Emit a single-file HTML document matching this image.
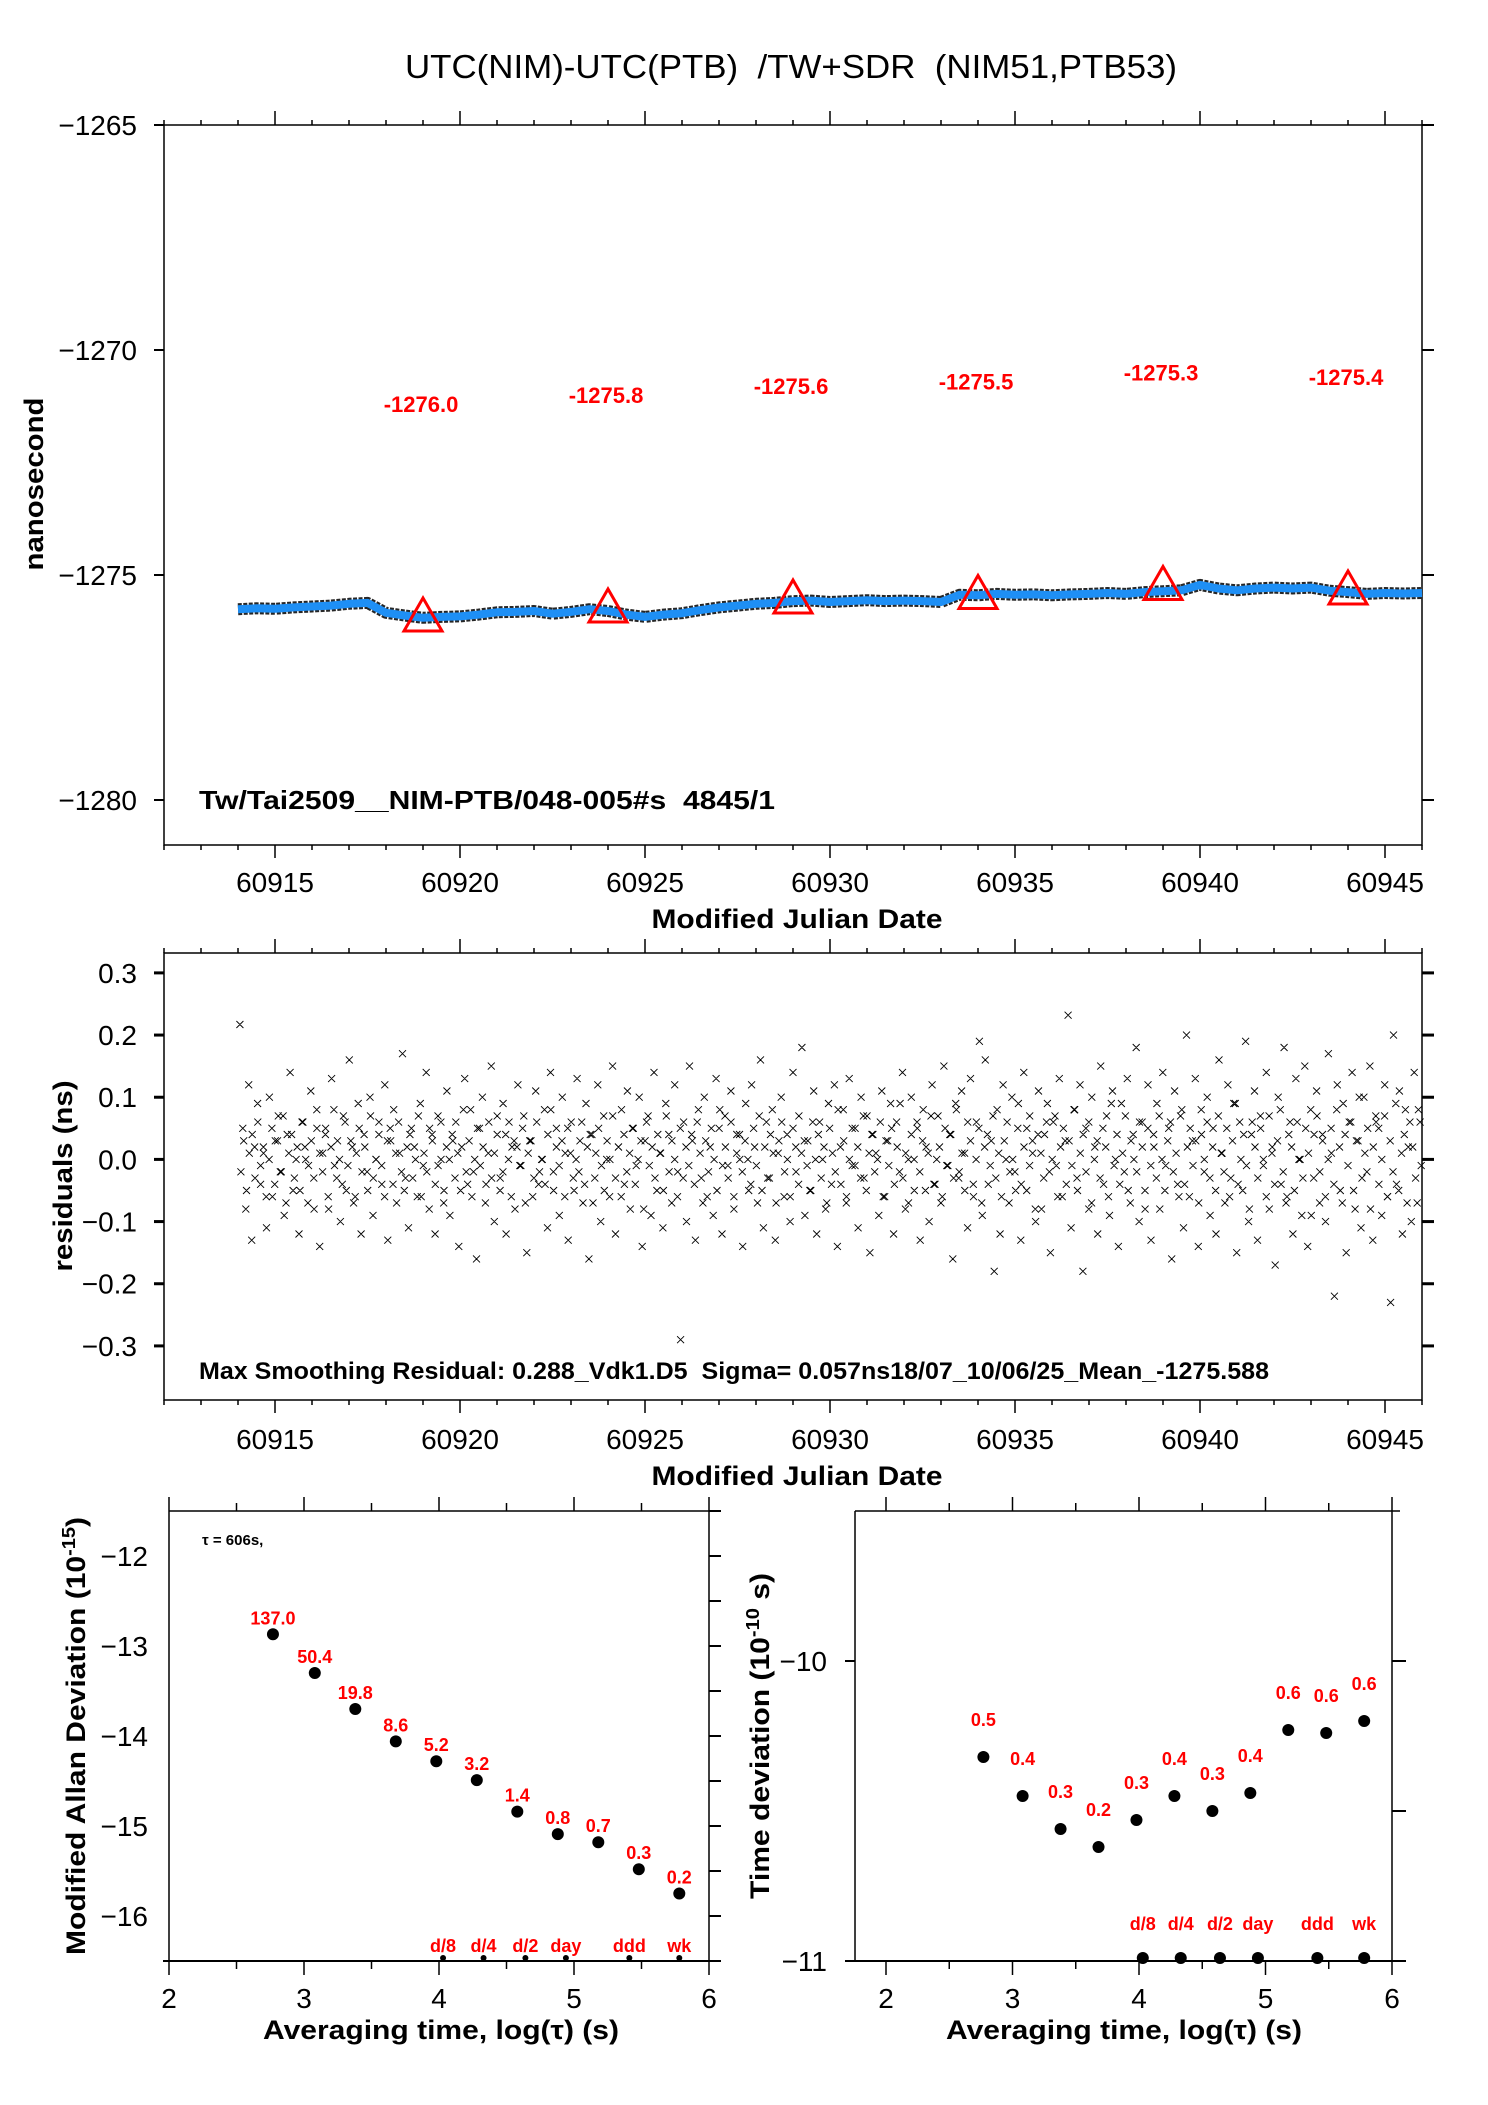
<!DOCTYPE html>
<html><head><meta charset="utf-8"><title>UTC(NIM)-UTC(PTB)</title>
<style>
html,body{margin:0;padding:0;background:#fff;}
svg{display:block;font-family:"Liberation Sans",Arial,sans-serif;}
text{white-space:pre;}
</style></head>
<body>
<svg id="fig" xmlns="http://www.w3.org/2000/svg" width="1488" height="2105" viewBox="0 0 1488 2105">
<rect width="1488" height="2105" fill="#fff"/>
<text x="791" y="78" font-size="33" text-anchor="middle" textLength="772" lengthAdjust="spacingAndGlyphs" xml:space="preserve">UTC(NIM)-UTC(PTB)  /TW+SDR  (NIM51,PTB53)</text>
<g id="p1"></g>
<g id="p2"></g>
<g id="p3"></g>
<g id="p4"></g>
</svg>
<script>
// ---------- DATA ----------
const seriesStart = 60914;
const seriesStep = 0.5;
const seriesValues = [-1275.76,-1275.74,-1275.75,-1275.72,-1275.70,-1275.68,-1275.64,-1275.62,-1275.84,-1275.90,-1275.95,-1275.93,-1275.92,-1275.88,-1275.83,-1275.82,-1275.80,-1275.86,-1275.82,-1275.76,-1275.80,-1275.88,-1275.93,-1275.88,-1275.85,-1275.78,-1275.72,-1275.68,-1275.64,-1275.62,-1275.58,-1275.57,-1275.60,-1275.58,-1275.56,-1275.58,-1275.57,-1275.58,-1275.60,-1275.44,-1275.45,-1275.42,-1275.44,-1275.43,-1275.45,-1275.43,-1275.42,-1275.40,-1275.42,-1275.38,-1275.36,-1275.34,-1275.22,-1275.30,-1275.34,-1275.30,-1275.28,-1275.30,-1275.28,-1275.35,-1275.38,-1275.42,-1275.40,-1275.41,-1275.40];
const markerDates = [60919,60924,60929,60934,60939,60944];
const markerValues = [-1276.0,-1275.8,-1275.6,-1275.5,-1275.3,-1275.4];
const markerLabels = ["-1276.0","-1275.8","-1275.6","-1275.5","-1275.3","-1275.4"];
const p1YTicks = [-1265,-1270,-1275,-1280];
const xTickDates = [60915,60920,60925,60930,60935,60940,60945];

const resStart = 60914.05;
const resEnd = 60945.95;
const residualsA = [0.217,0.05,-0.08,0.12,-0.13,0.02,0.09,-0.04,0.01,-0.11,0.10,-0.06,0.03,0.07,-0.02,-0.09,0.04,0.14,-0.05,0.00,
-0.12,0.06,0.02,-0.07,0.11,-0.03,0.08,-0.14,0.01,0.05,-0.08,0.13,-0.01,0.03,-0.10,0.07,-0.05,0.16,0.02,-0.06,
0.09,-0.12,0.04,-0.02,0.10,-0.09,0.00,0.06,-0.04,0.12,-0.13,0.03,0.08,-0.07,0.01,0.17,-0.03,-0.11,0.05,0.02,
-0.06,0.09,-0.01,0.14,-0.08,0.04,-0.12,0.07,0.00,-0.05,0.11,-0.09,0.03,0.06,-0.14,0.02,0.13,-0.04,0.08,-0.02,
-0.16,0.05,0.10,-0.07,0.01,0.15,-0.10,0.04,-0.03,0.09,-0.12,0.06,0.02,-0.08,0.12,-0.01,0.07,-0.15,0.03,-0.06,
0.11,-0.04,0.00,0.08,-0.11,0.14,-0.02,0.05,-0.09,0.10,0.01,-0.13,0.06,-0.05,0.13,0.03,-0.07,0.09,-0.16,0.04,
-0.03,0.12,-0.10,0.07,0.00,-0.06,0.15,-0.12,0.02,0.08,-0.04,0.11,-0.08,0.05,-0.01,0.10,-0.14,0.03,0.07,-0.09,
0.14,-0.05,0.01,-0.11,0.09,0.04,-0.07,0.12,-0.02,-0.29,0.06,-0.10,0.15,0.03,-0.13,0.08,-0.03,0.10,-0.06,0.02,
-0.09,0.13,0.05,-0.12,0.07,-0.01,0.11,-0.08,0.04,0.00,-0.14,0.09,-0.05,0.12,0.02,-0.07,0.16,-0.11,0.06,-0.03,
0.08,-0.13,0.01,0.10,-0.06,0.04,-0.10,0.14,-0.02,0.07,0.18,-0.09,0.03,-0.05,0.11,-0.12,0.06,0.00,-0.08,0.09,
-0.04,0.12,-0.14,0.02,0.08,-0.07,0.13,-0.01,0.05,-0.11,0.10,-0.03,0.07,-0.15,0.04,0.01,-0.09,0.11,-0.06,0.03,
0.09,-0.12,0.06,-0.02,0.14,-0.08,0.00,0.10,-0.05,0.05,-0.13,0.08,0.02,-0.10,0.12,-0.04,0.07,-0.07,0.15,-0.01,
0.04,-0.16,0.09,-0.03,0.11,0.01,-0.11,0.13,-0.06,0.06,0.19,-0.09,0.16,-0.04,0.03,-0.18,0.08,-0.12,0.12,0.00,
-0.07,0.10,-0.02,0.05,-0.13,0.14,-0.05,0.07,0.01,-0.10,0.11,-0.08,0.04,0.09,-0.15,0.06,-0.01,0.13,-0.06,0.03,
0.232,-0.11,0.08,-0.03,0.12,-0.18,0.05,-0.08,0.10,0.02,-0.12,0.15,-0.04,0.07,-0.09,0.11,0.00,-0.14,0.09,-0.02,
0.13,-0.07,0.04,0.18,-0.10,0.06,-0.05,0.12,-0.13,0.02,0.09,-0.08,0.14,-0.01,0.05,-0.16,0.11,-0.04,0.07,-0.11,
0.20,-0.06,0.03,0.13,-0.14,0.08,-0.02,0.10,-0.09,0.05,-0.12,0.16,0.01,-0.07,0.12,-0.03,0.09,-0.15,0.06,-0.05,
0.19,-0.10,0.04,0.11,-0.13,0.07,-0.01,0.14,-0.08,0.02,-0.17,0.10,-0.04,0.18,-0.06,0.06,-0.12,0.13,0.00,-0.09,
0.15,-0.14,0.08,-0.03,0.11,-0.07,0.04,-0.10,0.17,0.01,-0.22,0.12,-0.05,0.09,-0.15,0.06,0.14,-0.08,0.03,-0.11,
0.10,-0.02,0.15,-0.13,0.07,0.05,-0.09,0.12,-0.06,-0.23,0.20,-0.04,0.11,-0.12,0.08,0.02,-0.10,0.14,-0.07,0.06];
const residualsB = [-0.02,0.03,-0.05,0.01,0.04,-0.03,0.06,-0.01,0.02,-0.06,0.00,0.05,-0.04,0.03,-0.02,0.07,-0.07,0.01,0.04,-0.03,
0.02,-0.05,0.06,0.00,-0.01,0.03,-0.08,0.05,0.01,-0.02,0.04,-0.06,0.02,0.08,-0.03,0.00,-0.04,0.06,-0.01,0.03,
-0.07,0.01,0.05,-0.02,0.02,-0.05,0.07,-0.03,0.00,0.04,-0.01,-0.06,0.03,0.05,-0.04,0.01,0.06,-0.02,-0.05,0.02,
0.04,-0.03,0.00,0.07,-0.06,0.01,-0.02,0.05,0.03,-0.04,-0.01,0.06,-0.07,0.02,0.00,0.04,-0.03,0.01,-0.05,0.08,
-0.02,0.03,-0.06,0.00,0.05,-0.01,0.02,-0.04,0.06,-0.03,0.01,0.07,-0.05,-0.02,0.04,0.00,-0.06,0.03,0.02,-0.01,
0.05,-0.07,0.01,0.03,-0.03,0.06,-0.02,0.00,-0.04,0.04,0.08,-0.05,0.02,-0.01,0.03,-0.06,0.05,0.01,-0.03,0.00,
-0.02,0.06,-0.04,0.02,0.04,-0.07,0.01,0.05,-0.01,-0.05,0.03,0.00,0.07,-0.03,0.02,-0.06,0.04,-0.02,0.01,0.05,
-0.04,0.00,0.03,-0.08,0.06,-0.01,0.02,-0.03,0.04,0.01,-0.05,0.07,-0.02,0.03,0.00,-0.06,0.05,-0.03,0.02,-0.01,
0.04,-0.04,0.06,0.01,-0.07,0.03,-0.02,0.05,0.00,-0.05,0.08,-0.01,0.02,-0.03,0.06,-0.06,0.01,0.04,-0.02,0.03,
0.00,-0.04,0.05,-0.01,0.07,-0.05,0.02,-0.03,0.04,0.01,-0.07,0.03,0.06,-0.02,0.00,-0.06,0.05,0.02,-0.04,0.01,
0.03,-0.01,-0.05,0.06,0.00,0.04,-0.03,0.02,-0.07,0.05,0.01,-0.02,0.08,-0.04,0.03,-0.06,0.00,0.05,-0.01,0.02,
-0.03,0.07,-0.05,0.01,0.04,-0.02,0.00,0.06,-0.06,0.03,-0.01,0.05,-0.04,0.02,0.09,-0.03,0.01,-0.07,0.04,0.00,
0.06,-0.02,0.03,-0.05,0.01,0.07,-0.04,0.00,0.02,-0.06,0.05,-0.01,0.04,-0.03,0.08,-0.02,0.01,-0.05,0.06,0.03,
-0.04,0.00,0.05,-0.07,0.02,0.04,-0.01,0.07,-0.03,0.01,-0.06,0.03,0.06,-0.02,0.00,-0.05,0.09,-0.04,0.02,0.05,
-0.01,0.03,-0.08,0.04,0.01,-0.03,0.06,-0.02,0.00,0.07,-0.06,0.02,0.05,-0.04,0.03,-0.01,0.08,-0.05,0.01,0.04,
-0.02,0.06,-0.07,0.00,0.03,-0.03,0.05,0.02,-0.06,0.09,-0.01,0.04,-0.04,0.01,0.07,-0.05,0.03,0.00,-0.02,0.06,
0.02,-0.08,0.05,-0.01,0.04,-0.03,0.07,0.00,-0.05,0.03,0.06,-0.02,0.01,-0.06,0.08,-0.04,0.02,0.05,-0.01,0.03,
-0.07,0.04,0.00,0.06,-0.03,0.02,-0.05,0.07,0.01,-0.02,0.05,-0.06,0.03,0.09,-0.04,0.00,0.04,-0.01,-0.08,0.06,
0.02,-0.03,0.05,0.00,-0.06,0.07,0.01,-0.04,0.03,0.08,-0.02,-0.07,0.04,0.02,-0.05,0.06,0.00,-0.03,0.05,0.01,
-0.09,0.04,0.07,-0.02,0.03,-0.06,0.00,0.05,-0.04,0.08,0.02,-0.07,0.04,-0.01,0.06,-0.05,0.03,0.10,-0.03,0.01,
0.05,-0.08,0.02,0.06,-0.04,0.00,0.07,-0.06,0.03,-0.02,0.09,-0.05,0.01,0.04,-0.07,0.06,0.02,-0.03,0.08,-0.01];
const residuals = residualsA.concat(residualsB);
const p2YTicks = [0.3,0.2,0.1,0.0,-0.1,-0.2,-0.3];
const p2YTickLabels = ["0.3","0.2","0.1","0.0","\u22120.1","\u22120.2","\u22120.3"];

const logTau = [2.77,3.08,3.38,3.68,3.98,4.28,4.58,4.88,5.18,5.48,5.78];
const adevValues = [-12.87,-13.30,-13.70,-14.06,-14.28,-14.49,-14.84,-15.09,-15.18,-15.48,-15.75];
const adevLabels = ["137.0","50.4","19.8","8.6","5.2","3.2","1.4","0.8","0.7","0.3","0.2"];
const tdevValues = [-10.32,-10.45,-10.56,-10.62,-10.53,-10.45,-10.50,-10.44,-10.23,-10.24,-10.20];
const tdevLabels = ["0.5","0.4","0.3","0.2","0.3","0.4","0.3","0.4","0.6","0.6","0.6"];
const periodNames = ["d/8","d/4","d/2","day","ddd","wk"];
const periodLogTau = [4.03,4.33,4.64,4.94,5.41,5.78];
const adevYTicks = [-12,-13,-14,-15,-16];
const tdevYTicks = [-10,-11];
const logTicks = [2,3,4,5,6];

// ---------- helpers ----------
const NS = "http://www.w3.org/2000/svg";
function mk(parent, tag, attrs, text){
  const e = document.createElementNS(NS, tag);
  for (const k in attrs) e.setAttribute(k, attrs[k]);
  if (text !== undefined) e.textContent = text;
  parent.appendChild(e);
  return e;
}
function lin(d0,d1,r0,r1){ return v => r0 + (v-d0)/(d1-d0)*(r1-r0); }

// ---------- Panel 1 ----------
(function(){
  const g = document.getElementById('p1');
  const L=164,R=1422,T=125,B=845;
  const x = lin(60912,60946,L,R), y = lin(-1281,-1265,B,T);
  const fr = mk(g,'rect',{x:L,y:T,width:R-L,height:B-T,fill:'none',stroke:'#000','stroke-width':1.5});
   
  for (let d=60912; d<=60946; d++){
    const maj = d%5===0;
    mk(g,'line',{x1:x(d),x2:x(d),y1:B,y2:B+(maj?13:5),stroke:'#000','stroke-width':1.5});
    mk(g,'line',{x1:x(d),x2:x(d),y1:T,y2:T-(maj?14:5),stroke:'#000','stroke-width':1.5});
  }
  xTickDates.forEach(d=>{
    const t = mk(g,'text',{x:x(d),y:892,'font-size':28,'text-anchor':'middle'},String(d));
     
  });
  p1YTicks.forEach(v=>{
    mk(g,'line',{x1:L-10,x2:L,y1:y(v),y2:y(v),stroke:'#000','stroke-width':2});
    mk(g,'line',{x1:R,x2:R+12,y1:y(v),y2:y(v),stroke:'#000','stroke-width':2});
    const t = mk(g,'text',{x:137,y:y(v)+10,'font-size':28,'text-anchor':'end'},'\u2212'+Math.abs(v));
     
  });
  const xt = mk(g,'text',{x:797,y:928,'font-size':27,'font-weight':'bold','text-anchor':'middle',textLength:291,lengthAdjust:'spacingAndGlyphs'},'Modified Julian Date');
   
  const yt = mk(g,'text',{x:0,y:0,'font-size':27,'font-weight':'bold','text-anchor':'middle',textLength:173,lengthAdjust:'spacingAndGlyphs',transform:'translate(43,484) rotate(-90)'},'nanosecond');
   
  const pts = seriesValues.map((v,i)=>x(seriesStart+i*seriesStep).toFixed(1)+','+y(v).toFixed(1)).join(' ');
  const l1 = mk(g,'polyline',{points:pts,fill:'none',stroke:'#000','stroke-width':12,'stroke-linejoin':'round','stroke-dasharray':'4 1.5',opacity:0.85});
   
  const l2 = mk(g,'polyline',{points:pts,fill:'none',stroke:'#1e8ff5','stroke-width':8,'stroke-linejoin':'round'});
   
  markerDates.forEach((d,i)=>{
    const cx=x(d), cy=y(markerValues[i]);
    const tri = mk(g,'polygon',{points:`${cx},${cy-22} ${cx-19},${cy+11} ${cx+19},${cy+11}`,fill:'none',stroke:'#f00','stroke-width':3});
     
    const lb = mk(g,'text',{x:cx-2,y:y(markerValues[i]+4.8)+8,'font-size':22,'font-weight':'bold',fill:'#f00','text-anchor':'middle'},markerLabels[i]);
     
  });
  const fn = mk(g,'text',{x:199,y:809,'font-size':26,'font-weight':'bold',textLength:576,lengthAdjust:'spacingAndGlyphs'},'Tw/Tai2509__NIM-PTB/048-005#s  4845/1');
   
})();

// ---------- Panel 2 ----------
(function(){
  const g = document.getElementById('p2');
  const L=164,R=1422,T=953,B=1400;
  const x = lin(60912,60946,L,R), y = lin(-0.387,0.332,B,T);
  const fr = mk(g,'rect',{x:L,y:T,width:R-L,height:B-T,fill:'none',stroke:'#000','stroke-width':1.5});
   
  for (let d=60912; d<=60946; d++){
    const maj = d%5===0;
    mk(g,'line',{x1:x(d),x2:x(d),y1:B,y2:B+(maj?13:5),stroke:'#000','stroke-width':1.5});
    mk(g,'line',{x1:x(d),x2:x(d),y1:T,y2:T-(maj?14:5),stroke:'#000','stroke-width':1.5});
  }
  xTickDates.forEach(d=>{
    const t = mk(g,'text',{x:x(d),y:1449,'font-size':28,'text-anchor':'middle'},String(d));
     
  });
  p2YTicks.forEach((v,i)=>{
    mk(g,'line',{x1:L-10,x2:L,y1:y(v),y2:y(v),stroke:'#000','stroke-width':3});
    mk(g,'line',{x1:R,x2:R+12,y1:y(v),y2:y(v),stroke:'#000','stroke-width':3});
    const t = mk(g,'text',{x:137,y:y(v)+10,'font-size':28,'text-anchor':'end'},p2YTickLabels[i]);
     
  });
  const xt = mk(g,'text',{x:797,y:1485,'font-size':27,'font-weight':'bold','text-anchor':'middle',textLength:291,lengthAdjust:'spacingAndGlyphs'},'Modified Julian Date');
   
  const yt = mk(g,'text',{x:0,y:0,'font-size':27,'font-weight':'bold','text-anchor':'middle',textLength:191,lengthAdjust:'spacingAndGlyphs',transform:'translate(72,1176) rotate(-90)'},'residuals (ns)');
   
  let d='';
  function addSet(arr, offset){
    const n = arr.length;
    arr.forEach((v,i)=>{
      const px = x(resStart + (i+offset)*(resEnd-resStart)/(n-1)), py = y(v);
      d += `M${(px-3.5).toFixed(1)},${(py-3.5).toFixed(1)}l7,7M${(px-3.5).toFixed(1)},${(py+3.5).toFixed(1)}l7,-7`;
    });
  }
  addSet(residualsA, 0);
  addSet(residualsB, 0.37);
  const sc = mk(g,'path',{d:d,stroke:'#000','stroke-width':0.9,fill:'none'});
   
  const fn = mk(g,'text',{x:199,y:1379,'font-size':24,'font-weight':'bold',textLength:1070,lengthAdjust:'spacingAndGlyphs'},'Max Smoothing Residual: 0.288_Vdk1.D5  Sigma= 0.057ns18/07_10/06/25_Mean_-1275.588');
   
})();

// ---------- Panel 3 (ADEV) ----------
(function(){
  const g = document.getElementById('p3');
  const L=169,R=709,T=1511,B=1961;
  const x = lin(2,6,L,R), y = lin(-16.5,-11.5,B,T);
  mk(g,'line',{x1:L,x2:R,y1:T,y2:T,stroke:'#000','stroke-width':1.5});
  mk(g,'line',{x1:L-6,x2:R+8,y1:B,y2:B,stroke:'#000','stroke-width':2});
  mk(g,'line',{x1:L,x2:L,y1:T,y2:B,stroke:'#000','stroke-width':1.5});
  mk(g,'line',{x1:R,x2:R,y1:T,y2:B,stroke:'#000','stroke-width':1.5});
  for (let k=0;k<=8;k++){
    const v=2+k*0.5, maj=k%2===0;
    mk(g,'line',{x1:x(v),x2:x(v),y1:T,y2:T-(maj?14:8),stroke:'#000','stroke-width':1.5});
    mk(g,'line',{x1:x(v),x2:x(v),y1:B,y2:B+(maj?14:8),stroke:'#000','stroke-width':1.5});
  }
  for (let k=0;k<=10;k++){
    const v=-11.5-k*0.5;
    mk(g,'line',{x1:R,x2:R+12,y1:y(v),y2:y(v),stroke:'#000','stroke-width':2});
  }
  logTicks.forEach(v=>{
    const t = mk(g,'text',{x:x(v),y:2008,'font-size':28,'text-anchor':'middle'},String(v));
     
  });
  adevYTicks.forEach(v=>{
    const t = mk(g,'text',{x:148,y:y(v)+10,'font-size':28,'text-anchor':'end'},'\u2212'+Math.abs(v));
     
  });
  const xt = mk(g,'text',{x:441,y:2039,'font-size':27,'font-weight':'bold','text-anchor':'middle',textLength:356,lengthAdjust:'spacingAndGlyphs'},'Averaging time, log(\u03c4) (s)');
   
  const yt = mk(g,'text',{x:0,y:0,'font-size':27,'font-weight':'bold','text-anchor':'middle',textLength:438,lengthAdjust:'spacingAndGlyphs',transform:'translate(85,1736) rotate(-90)'});
   
  mk(yt,'tspan',{},'Modified Allan Deviation (10');
  mk(yt,'tspan',{dy:-10,'font-size':18},'-15');
  mk(yt,'tspan',{dy:10},')');
  const tn = mk(g,'text',{x:202,y:1545,'font-size':15,'font-weight':'bold'},'\u03c4 = 606s,');
   
  logTau.forEach((lt,i)=>{
    const c = mk(g,'circle',{cx:x(lt),cy:y(adevValues[i]),r:6,fill:'#000'});
     
    const t = mk(g,'text',{x:x(lt),y:y(adevValues[i])-10,'font-size':18,'font-weight':'bold',fill:'#f00','text-anchor':'middle'},adevLabels[i]);
     
  });
  periodLogTau.forEach((lt,i)=>{
    mk(g,'circle',{cx:x(lt),cy:B-3,r:3,fill:'#000'});
    const t = mk(g,'text',{x:x(lt),y:1952,'font-size':18,'font-weight':'bold',fill:'#f00','text-anchor':'middle'},periodNames[i]);
     
  });
})();

// ---------- Panel 4 (TDEV) ----------
(function(){
  const g = document.getElementById('p4');
  const x = lin(2,6,886,1392);
  const L=x(1.755),R=1392,T=1511,B=1961;
  const y = lin(-11,-9.5,B,T);
  mk(g,'line',{x1:L,x2:R+8,y1:T,y2:T,stroke:'#000','stroke-width':1.5});
  mk(g,'line',{x1:L-10,x2:R+12,y1:B,y2:B,stroke:'#000','stroke-width':2});
  mk(g,'line',{x1:L,x2:L,y1:T,y2:B,stroke:'#000','stroke-width':1.5});
  mk(g,'line',{x1:R,x2:R,y1:T,y2:B,stroke:'#000','stroke-width':1.5});
  for (let k=0;k<=8;k++){
    const v=2+k*0.5, maj=k%2===0;
    mk(g,'line',{x1:x(v),x2:x(v),y1:T,y2:T-(maj?14:8),stroke:'#000','stroke-width':1.5});
    mk(g,'line',{x1:x(v),x2:x(v),y1:B,y2:B+(maj?14:8),stroke:'#000','stroke-width':1.5});
  }
  [-10,-10.5,-11].forEach(v=>{
    mk(g,'line',{x1:R,x2:R+14,y1:y(v),y2:y(v),stroke:'#000','stroke-width':2});
  });
  logTicks.forEach(v=>{
    const t = mk(g,'text',{x:x(v),y:2008,'font-size':28,'text-anchor':'middle'},String(v));
     
  });
  tdevYTicks.forEach(v=>{
    mk(g,'line',{x1:L-10,x2:L,y1:y(v),y2:y(v),stroke:'#000','stroke-width':2});
    const t = mk(g,'text',{x:827,y:y(v)+10,'font-size':28,'text-anchor':'end'},'\u2212'+Math.abs(v));
     
  });
  const xt = mk(g,'text',{x:1124,y:2039,'font-size':27,'font-weight':'bold','text-anchor':'middle',textLength:356,lengthAdjust:'spacingAndGlyphs'},'Averaging time, log(\u03c4) (s)');
   
  const yt = mk(g,'text',{x:0,y:0,'font-size':27,'font-weight':'bold','text-anchor':'middle',textLength:326,lengthAdjust:'spacingAndGlyphs',transform:'translate(769,1736) rotate(-90)'});
   
  mk(yt,'tspan',{},'Time deviation (10');
  mk(yt,'tspan',{dy:-10,'font-size':18},'-10');
  mk(yt,'tspan',{dy:10},' s)');
  logTau.forEach((lt,i)=>{
    const c = mk(g,'circle',{cx:x(lt),cy:y(tdevValues[i]),r:6,fill:'#000'});
     
    const t = mk(g,'text',{x:x(lt),y:y(tdevValues[i])-31,'font-size':18,'font-weight':'bold',fill:'#f00','text-anchor':'middle'},tdevLabels[i]);
     
  });
  periodLogTau.forEach((lt,i)=>{
    mk(g,'circle',{cx:x(lt),cy:B-3,r:6,fill:'#000'});
    const t = mk(g,'text',{x:x(lt),y:1930,'font-size':18,'font-weight':'bold',fill:'#f00','text-anchor':'middle'},periodNames[i]);
     
  });
})();
</script>
</body></html>
